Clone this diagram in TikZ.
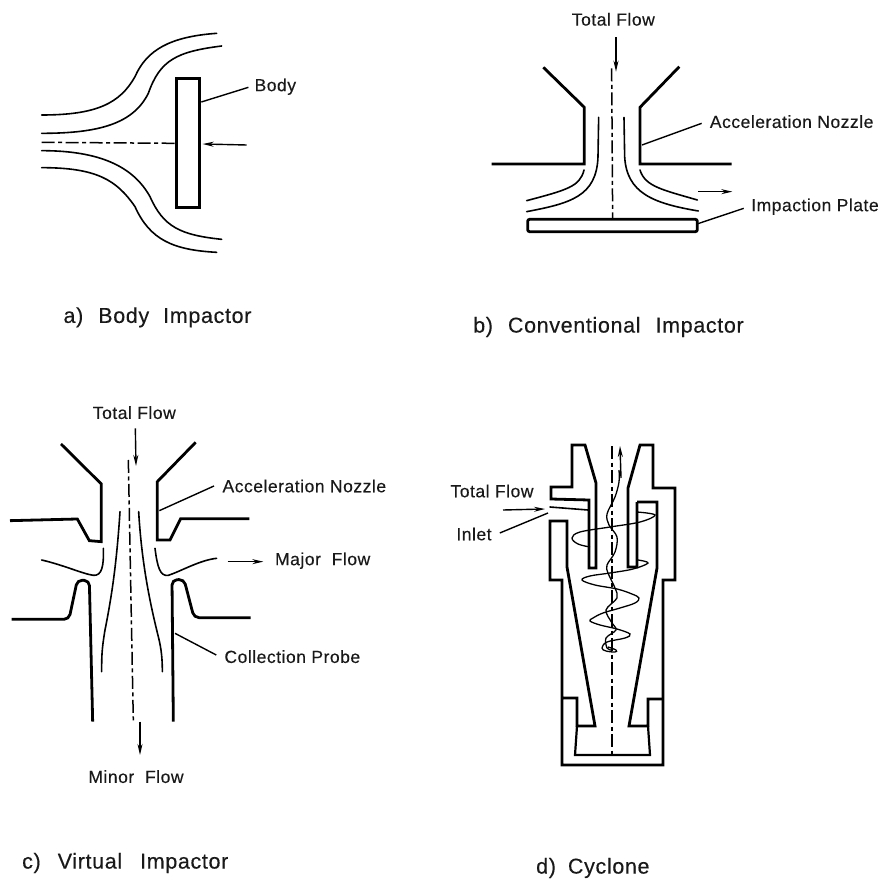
\documentclass[tikz,border=0pt]{standalone}
\usepackage{fontspec}
\setmainfont{Liberation Sans}
\newfontfamily\lblfont[LetterSpace=3,FakeBold=0.25]{Liberation Sans}
\usetikzlibrary{arrows.meta}
\tikzset{
  wall/.style={line width=2.8pt,line join=miter},
  flow/.style={line width=1.6pt,line cap=round},
  leader/.style={line width=1.4pt},
  axis/.style={line width=1.5pt,dash pattern=on 13pt off 3.5pt on 4pt off 3.5pt},
  swirl/.style={line width=1.3pt},
  flowarrow/.style={line width=1.4pt,-{Stealth[length=11pt,width=5pt]}},
  lbl/.style={font=\lblfont\fontsize{17.5}{20}\selectfont,inner sep=0pt,text=black!90},
  captxt/.style={font=\lblfont\fontsize{21.5}{24}\selectfont,inner sep=0pt,anchor=west,text=black!90},
  zoomed/.style={x=.33333pt,y=-.33333pt}
}
\begin{document}
\begin{tikzpicture}[x=1pt,y=-1pt]
\path[use as bounding box,fill=white] (0,0) rectangle (885,882);

% ---------- a) Body impactor
\begin{scope}[zoomed,shift={(0,90)}]
\draw[flow] (125,255) .. controls (290,255) and (360,220) .. (405,140) .. controls (440,60) and (510,20) .. (650,10);
\draw[flow] (125,310) .. controls (300,310) and (400,280) .. (445,190) .. controls (480,90) and (530,65) .. (665,48);
\draw[flow] (125,362) .. controls (300,362) and (400,410) .. (450,500) .. controls (490,590) and (540,615) .. (665,628);
\draw[flow] (125,413) .. controls (290,413) and (350,450) .. (405,530) .. controls (450,630) and (520,660) .. (650,667);
\coordinate (aAxisL) at (125,337);
\coordinate (aAxisR) at (530,340);
\draw[axis] (aAxisL) -- (aAxisR);
\draw[wall] (530,145) rectangle (598,532);
\coordinate (aArrowS) at (740,345);
\coordinate (aArrowE) at (608,342);
\draw[flowarrow] (aArrowS) -- (aArrowE);
\node[lbl] (aBody) at (826,170) {Body};
\coordinate (aBodyEnd) at (604,216);
\draw[leader] (aBody.west)++(-18,2) -- (aBodyEnd);
\node[captxt] (aCap) at (190,862) {a)\hspace{15pt}Body\hspace{14pt}Impactor};
\end{scope}

% ---------- b) Conventional impactor
\begin{scope}[zoomed,shift={(1380,0)}]
\draw[wall] (250,202) -- (373,322) -- (373,492) -- (95,492);
\draw[wall] (658,200) -- (540,322) -- (540,492) -- (815,492);
\draw[flow] (416,352) -- (414,470) .. controls (410,590) and (330,610) .. (200,635);
\draw[flow] (492,352) -- (494,470) .. controls (500,580) and (580,610) .. (715,633);
\draw[flow] (372,510) .. controls (360,560) and (320,570) .. (200,602);
\draw[flow] (540,510) .. controls (555,560) and (610,570) .. (712,600);
\coordinate (bAxisT) at (455,205);
\coordinate (bAxisB) at (458,660);
\draw[axis] (bAxisT) -- (bAxisB);
\draw[wall,rounded corners=2pt] (203,658) rectangle (712,695);
\node[lbl] (bTotal) at (460,58) {Total Flow};
\coordinate (bInS) at (468,112);
\coordinate (bInE) at (468,215);
\draw[flowarrow] (bInS) -- (bInE);
\coordinate (bOutS) at (715,575);
\coordinate (bOutE) at (817,575);
\draw[flowarrow] (bOutS) -- (bOutE);
\node[lbl] (bNozzle) at (995,365) {Acceleration Nozzle};
\coordinate (bNozzleEnd) at (546,435);
\draw[leader] (bNozzle.west)++(-24,5) -- (bNozzleEnd);
\node[lbl] (bPlate) at (1065,620) {Impaction Plate};
\coordinate (bPlateEnd) at (714,671);
\draw[leader] (bPlate.west)++(-22,5) -- (bPlateEnd);
\end{scope}
\node[captxt] (bCap) at (473,327) {b)\hspace{15pt}Conventional\hspace{15pt}Impactor};

% ---------- c) Virtual impactor
\begin{scope}[zoomed,shift={(0,1170)}]
\draw[wall] (183,162) -- (304,282) -- (304,455) -- (268,452) -- (232,387) -- (30,392);
\draw[wall] (587,157) -- (472,275) -- (472,450) -- (510,450) -- (542,386) -- (748,386);
\draw[wall,rounded corners=5pt] (35,688) -- (207,688) -- (232,570) -- (268,572) -- (278,995);
\draw[wall,rounded corners=5pt] (752,683) -- (582,683) -- (552,568) -- (516,570) -- (520,995);
\draw[flow] (360,365) .. controls (350,520) and (335,620) .. (315,720) .. controls (305,780) and (305,800) .. (305,845);
\draw[flow] (416,365) .. controls (425,520) and (450,640) .. (475,740) .. controls (485,780) and (487,810) .. (487,845);
\draw[flow] (310,475) .. controls (312,530) and (305,558) .. (280,556) .. controls (250,552) and (190,525) .. (125,510);
\draw[flow] (465,475) .. controls (472,530) and (480,560) .. (505,556) .. controls (540,545) and (600,510) .. (650,505);
\coordinate (cAxisT) at (385,210);
\coordinate (cAxisB) at (400,995);
\draw[axis] (cAxisT) -- (cAxisB);
\node[lbl] (cTotal) at (403,68) {Total Flow};
\coordinate (cInS) at (406,115);
\coordinate (cInE) at (408,228);
\draw[flowarrow] (cInS) -- (cInE);
\coordinate (cMinS) at (420,995);
\coordinate (cMinE) at (420,1095);
\draw[flowarrow] (cMinS) -- (cMinE);
\node[lbl] (cMinor) at (408,1160) {Minor\ \ Flow};
\coordinate (cMajS) at (683,515);
\coordinate (cMajE) at (790,515);
\draw[flowarrow] (cMajS) -- (cMajE);
\node[lbl] (cMajor) at (968,512) {Major\ \ Flow};
\node[lbl] (cNozzle) at (913,288) {Acceleration Nozzle};
\coordinate (cNozzleEnd) at (478,362);
\draw[leader] (cNozzle.west)++(-25,0) -- (cNozzleEnd);
\node[lbl] (cProbe) at (877,800) {Collection Probe};
\coordinate (cProbeEnd) at (525,730);
\draw[leader] (cProbe.west)++(-24,-5) -- (cProbeEnd);
\end{scope}
\node[captxt] (cCap) at (22,863) {c)\hspace{17pt}Virtual\hspace{18pt}Impactor};

% ---------- d) Cyclone
\draw[wall] (572,445) -- (585,445) -- (596,483) -- (596,568) -- (589,568) -- (589,500) -- (551,499) -- (551,487) -- (572,487) -- cycle;
\draw[wall] (637,502) -- (637,567) -- (628,567) -- (628,488) -- (640,445) -- (653,445) -- (653,488) -- (675,488) -- (675,580) -- (663,580) -- (663,765) -- (562,765) -- (562,580) -- (550,580) -- (550,521) -- (567,521) -- (567,567) -- (595,726) -- (577,726) -- (577,698) -- (562,698);
\draw[wall] (637,502) -- (657,502) -- (657,568) -- (629,726) -- (648,726) -- (648,699) -- (663,699);
\draw[wall,line width=2.2pt] (577,726) -- (575,755) -- (650,755) -- (648,726);
\draw[flow] (550,507) -- (588,510);
\coordinate (dAxisT) at (612,446);
\coordinate (dAxisB) at (612,755);
\draw[axis] (dAxisT) -- (dAxisB);
% swirling path
\draw[swirl] plot[smooth,tension=.55] coordinates {(619,470)(619,482)(615,497)(607,514)(609,525)(617,537)(615,552)(607,565)(608,573)(615,588)(617,598)(606,610)(612,623)(616,630)(606,638)(607,648)(611,650)};
\draw[swirl] plot[smooth,tension=.6] coordinates {(637,512)(655,515)(640,522)(610,527)(580,532)(572,538)(578,544)(590,547)};
\draw[swirl] plot[smooth,tension=.6] coordinates {(638,560)(648,563)(633,569)(610,573)(590,576)(582,580)(595,585)(617,589)(632,594)(639,598)(635,603)(620,608)(603,613)(593,618)(590,621)(600,625)(617,629)(630,634)(625,638)(607,642)(602,648)(606,651)(615,652)(616,650)(608,647)};
\coordinate (dInS) at (621,478);
\coordinate (dInE) at (620,446);
\draw[flowarrow] (dInS) -- (dInE);
\node[lbl] (dTotal) at (492,491) {Total Flow};
\coordinate (dFlowS) at (503,510);
\coordinate (dFlowE) at (545,509);
\draw[flowarrow] (dFlowS) -- (dFlowE);
\node[lbl] (dInlet) at (474,534) {Inlet};
\coordinate (dInletEnd) at (548,513);
\draw[leader] (dInlet.east)++(8,-1) -- (dInletEnd);
\node[captxt] (dCap) at (536,868) {d)\hspace{12pt}Cyclone};
\end{tikzpicture}
\end{document}
